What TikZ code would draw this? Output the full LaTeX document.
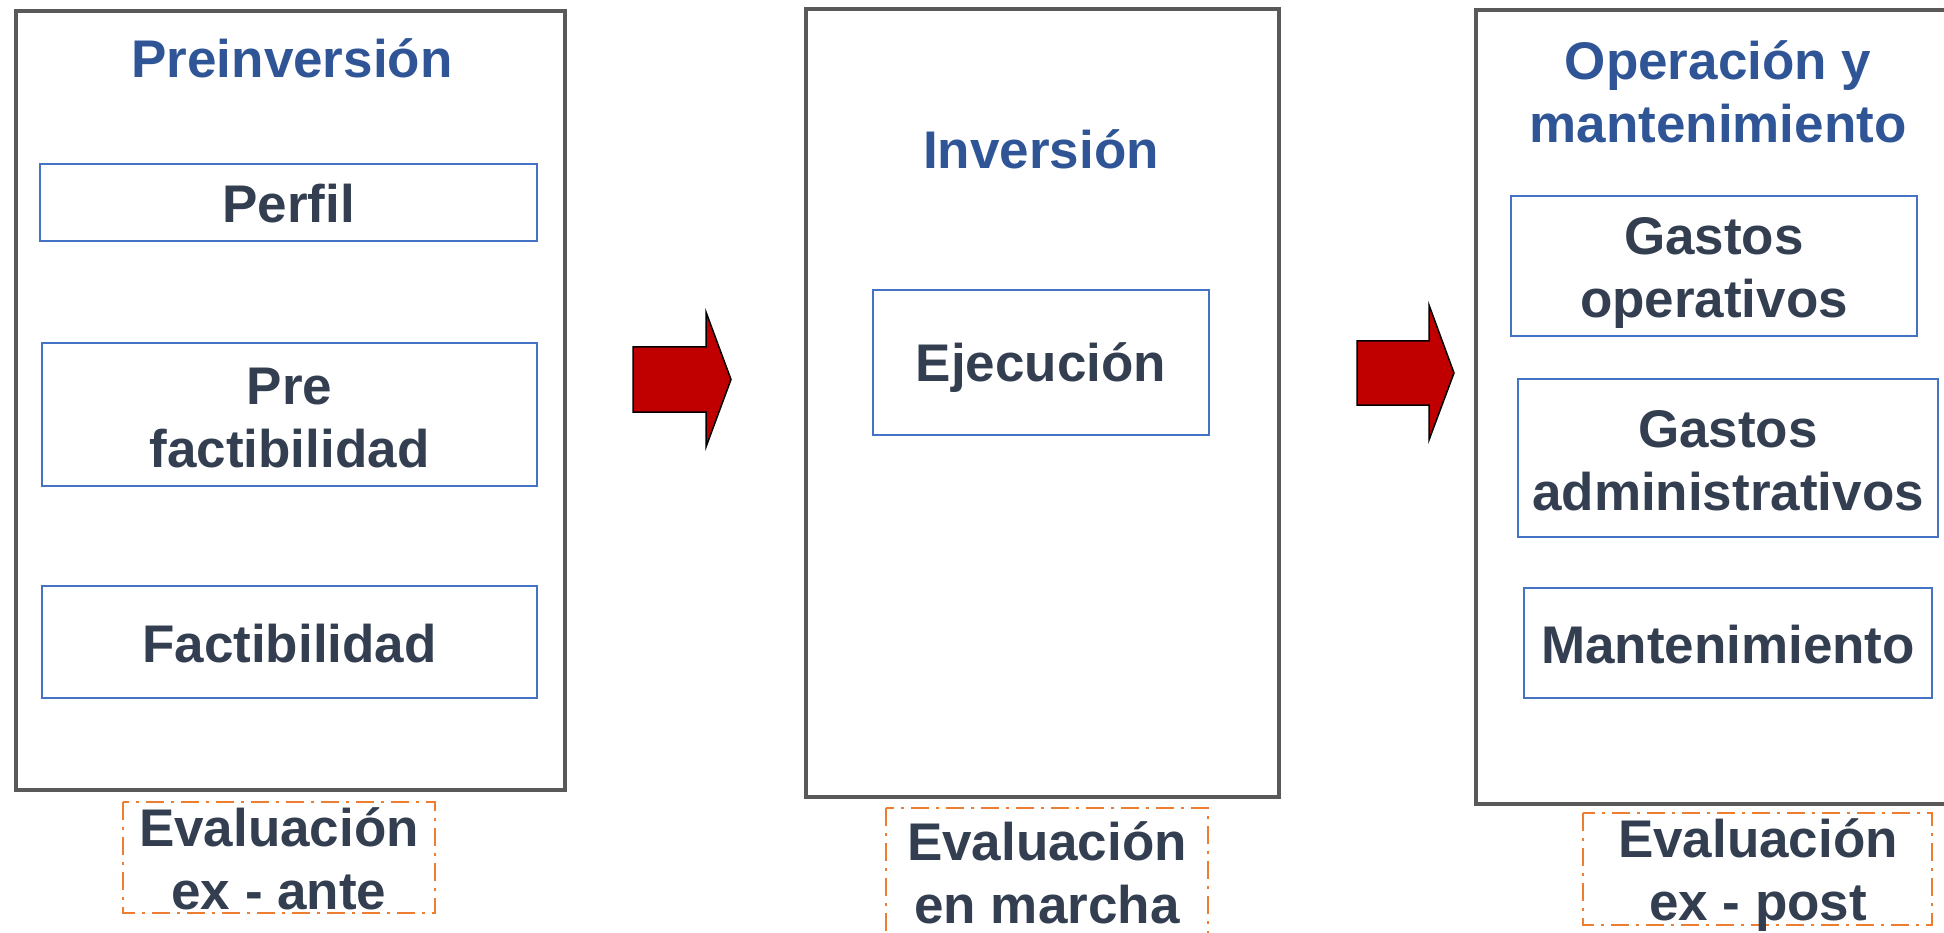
\documentclass[tikz,border=0pt]{standalone}
\usepackage{fontspec}
\setmainfont{Liberation Sans}
\definecolor{txtdark}{HTML}{333F50}
\definecolor{titleblue}{HTML}{2F5597}
\definecolor{innerblue}{HTML}{4472C4}
\definecolor{outergrey}{HTML}{595959}
\definecolor{evalorange}{HTML}{ED7D31}
\definecolor{arrowred}{HTML}{C00000}
\tikzset{
  bigtext/.style={font=\fontsize{53}{63}\selectfont\bfseries, align=center, inner sep=0pt},
  titletext/.style={bigtext, text=titleblue},
  bodytext/.style={bigtext, text=txtdark},
  outerbox/.style={draw=outergrey, line width=3.5pt},
  innerframe/.style={draw=innerblue, line width=2pt, inner sep=0pt},
  evalbox/.style={draw=evalorange, line width=2.5pt, dash pattern=on 18pt off 7pt on 3pt off 7pt},
  blockarrow/.style={fill=arrowred, draw=black, line width=1.5pt, line join=miter}
}
\begin{document}
\begin{tikzpicture}[x=1pt, y=-1pt]
\useasboundingbox (0,0) rectangle (1944,933);
\clip (0,0) rectangle (1944,933);
% outer stage boxes
\draw[outerbox] (16,11) rectangle (565,790);
\draw[outerbox] (806,9) rectangle (1279,797);
\draw[outerbox] (1476,10) rectangle (1990,804);
% titles
\node[titletext] (t1) at (292,58.5) {Preinversión};
\node[titletext] (t2) at (1041,149.5) {Inversión};
\node[titletext] (t3) at (1718,91.5) {Operación y\\mantenimiento};
% inner boxes
\node[innerframe, minimum width=497pt, minimum height=77pt] (perfil) at (288.5,202.5) {};
\node[innerframe, minimum width=495pt, minimum height=143pt] (prefact) at (289.5,414.5) {};
\node[innerframe, minimum width=495pt, minimum height=112pt] (fact) at (289.5,642) {};
\node[innerframe, minimum width=336pt, minimum height=145pt] (ejec) at (1041,362.5) {};
\node[innerframe, minimum width=406pt, minimum height=140pt] (gop) at (1714,266) {};
\node[innerframe, minimum width=420pt, minimum height=158pt] (gadm) at (1728,458) {};
\node[innerframe, minimum width=408pt, minimum height=110pt] (mant) at (1728,643) {};
\node[bodytext] (perfilt) at ([yshift=-1.5pt]perfil.center) {Perfil};
\node[bodytext] (prefactt) at ([yshift=-3.5pt]prefact.center) {Pre\\factibilidad};
\node[bodytext] (factt) at ([yshift=-1.5pt]fact.center) {Factibilidad};
\node[bodytext] (eject) at ([yshift=-5pt]ejec.center) {Ejecución};
\node[bodytext] (gopt) at ([yshift=-7pt]gop.center) {Gastos\\operativos};
\node[bodytext] (gadmt) at ([yshift=-3pt]gadm.center) {Gastos\\administrativos};
\node[bodytext] (mantt) at ([yshift=-1.5pt]mant.center) {Mantenimiento};
% block arrows
\draw[blockarrow] (633,347) -- (706,347) -- (706,312) -- (731,379.5) -- (706,447) -- (706,412) -- (633,412) -- cycle;
\draw[blockarrow] (1357,341) -- (1429,341) -- (1429,305) -- (1454,373) -- (1429,440) -- (1429,405) -- (1357,405) -- cycle;
% evaluation boxes
\draw[evalbox] (123,802) rectangle (435,913);
\draw[evalbox] (886,808) rectangle (1208,980);
\draw[evalbox] (1583,813) rectangle (1932,925);
\node[bodytext] (e1) at (279,859) {Evaluación\\ex - ante};
\node[bodytext] (e2) at (1047,872.5) {Evaluación\\en marcha};
\node[bodytext] (e3) at (1758,875.5) {Evaluación\\ex - post};
\end{tikzpicture}
\end{document}
